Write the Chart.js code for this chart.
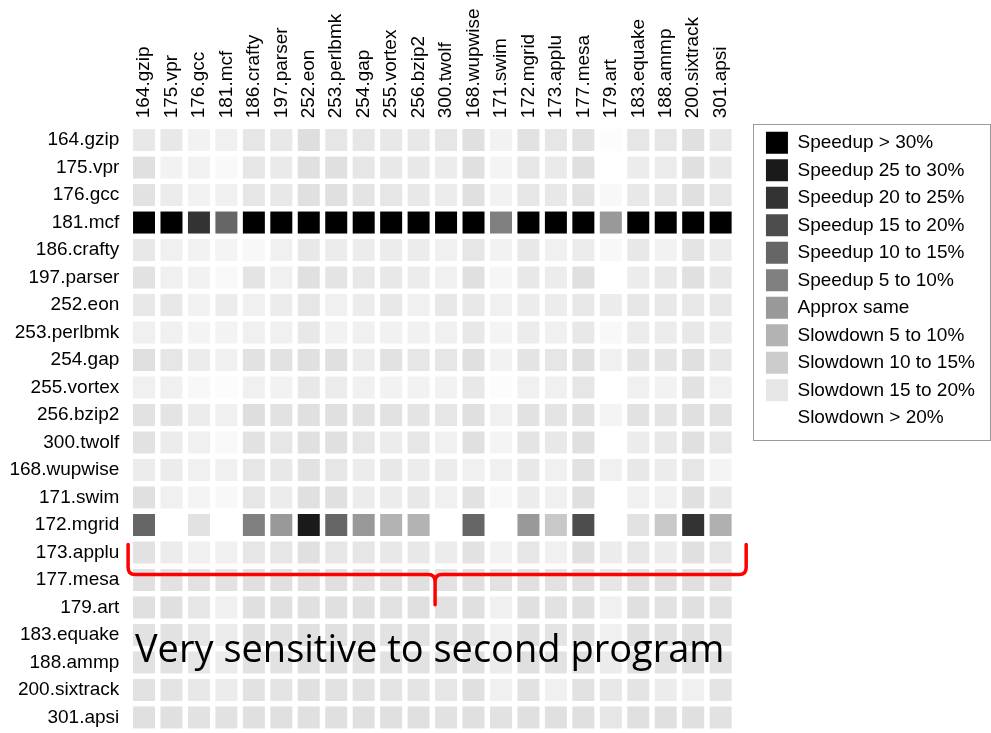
<!DOCTYPE html>
<html>
<head>
<meta charset="utf-8">
<script src="https://cdn.jsdelivr.net/npm/chart.js@4.4.1/dist/chart.umd.min.js"></script>
<style>
  html, body { margin: 0; background: #fff; }
  #wrap { width: 991px; height: 733px; position: relative; }
</style>
</head>
<body>
<div id="wrap"><canvas id="heat"></canvas></div>
<script>
"use strict";

// SPEC CPU2000 programs, same order on both axes.
const programs = [
  "164.gzip", "175.vpr", "176.gcc", "181.mcf", "186.crafty", "197.parser",
  "252.eon", "253.perlbmk", "254.gap", "255.vortex", "256.bzip2", "300.twolf",
  "168.wupwise", "171.swim", "172.mgrid", "173.applu", "177.mesa", "179.art",
  "183.equake", "188.ammp", "200.sixtrack", "301.apsi",
];

// Speedup in % (negative = slowdown), row program vs column program.
const speedup = [
  [-15.5, -15.5, -17.5, -17.1, -15.1, -15.5, -13.5, -15.1, -15.1, -15.5, -15.5, -15.1, -14, -17.5, -14.3, -15.1, -14.3, -19.4, -15.1, -15.1, -14, -15.5],
  [-14, -17.5, -17.5, -18.8, -15.1, -15.9, -14, -14, -15.1, -15.5, -15.5, -16.3, -14, -17.8, -15.1, -15.9, -14, -21, -16.3, -16.1, -14, -15.5],
  [-14.3, -16.3, -17.5, -17.1, -15.1, -15.5, -14, -14, -14.7, -15.1, -15.5, -16.3, -14, -17.5, -15.1, -15.5, -14.3, -18.6, -15.5, -15.1, -14, -15.1],
  [32, 32, 20, 10, 32, 32, 32, 32, 32, 32, 32, 32, 32, 5, 32, 32, 32, 0, 32, 32, 32, 32],
  [-15.5, -17.1, -17.5, -17.8, -18.6, -17.1, -15.5, -16.3, -16.3, -16.3, -16.3, -17.1, -15.1, -17.5, -15.5, -17.1, -16.3, -18.6, -15.5, -17.5, -14.7, -16.3],
  [-14.3, -17.1, -17.5, -18.8, -14.7, -17.1, -14, -14.7, -15.5, -15.5, -16.3, -17.1, -14, -18.2, -15.5, -16.3, -14, -21, -16.3, -15.5, -14, -15.5],
  [-15.5, -15.5, -17.5, -16.3, -17.1, -16.3, -15.1, -17.1, -16.3, -15.5, -17.1, -15.5, -15.5, -17.1, -16.3, -16.3, -15.5, -16.3, -15.1, -15.5, -15.5, -15.5],
  [-17.1, -17.1, -17.8, -17.6, -17.1, -17.1, -15.5, -17.5, -17.1, -17.3, -17.3, -17.1, -15.5, -17.8, -16.3, -17.1, -15.5, -18.6, -16.3, -16.3, -15.5, -16.3],
  [-14, -15.1, -16.3, -17.1, -14.3, -14.3, -14, -14, -16.3, -14.3, -15.1, -15.1, -14, -17.5, -14.7, -15.1, -14, -17.1, -14.7, -14.7, -14, -15.5],
  [-17.1, -17.1, -18.6, -19.4, -17.1, -17.5, -15.5, -16.3, -17.1, -17.5, -17.5, -17.5, -15.5, -19.4, -17.1, -17.1, -15.1, -21, -17.1, -17.5, -14.3, -17.1],
  [-14.3, -14.7, -16.3, -17.1, -13.5, -14.3, -14, -14, -14.3, -14.3, -14.7, -15.1, -14, -17.1, -14.3, -14.7, -14, -17.8, -14.3, -14.7, -14, -14.3],
  [-14.3, -16.3, -17.1, -18.8, -14.3, -15.1, -14, -14, -15.1, -16.3, -15.1, -17.1, -14, -17.8, -14.7, -15.5, -14, -21, -16.3, -15.5, -14, -15.1],
  [-16.3, -16.3, -17.1, -17.1, -15.1, -15.5, -14.3, -15.1, -16.3, -15.5, -16.3, -16.3, -17.1, -17.1, -15.5, -17.1, -14.3, -17.1, -15.5, -16.3, -15.1, -17.8],
  [-14, -17.1, -17.8, -18.6, -15.1, -16.3, -14, -14, -16.3, -16.3, -15.5, -17.1, -14.3, -18.6, -16.3, -17.1, -14, -21, -17.1, -17.1, -14, -15.5],
  [10, -21, -14.3, -21, 5, 0, 25, 10, 0, -5, -5, -21, 10, -21, 0, -9.2, 15, -21, -14.3, -9.2, 20, -4.6],
  [-14.3, -16.3, -17.1, -17.1, -15.1, -15.1, -14, -15.1, -15.1, -15.5, -15.5, -16.3, -14.3, -17.5, -15.1, -17.1, -14, -16.3, -15.1, -16.3, -14, -15.1],
  [-14, -14.3, -14.3, -14.3, -14, -14, -14, -14, -14.3, -14.3, -14, -14.3, -14, -14.3, -14, -14.3, -14, -15.1, -14, -14, -14, -14.3],
  [-14, -14, -15.1, -17.1, -14, -14, -14, -14, -14, -14.3, -14, -14.3, -14, -17.1, -14, -14.3, -14, -17.1, -14, -14.3, -14, -14.3],
  [-14.3, -14.3, -15.1, -16.3, -14, -14.3, -14, -14, -14, -14.3, -14.3, -14.3, -14, -17.1, -14, -14.7, -14, -17.1, -14, -14.3, -14, -14.3],
  [-14.3, -14.3, -15.1, -16.3, -14.3, -14.3, -14, -14, -14.3, -14.3, -14.3, -14.3, -14, -16.3, -14, -14.3, -14, -16.3, -14, -14.3, -14, -14.3],
  [-14.3, -14.7, -15.5, -16.3, -14.3, -14.7, -14, -14.3, -14.3, -14.7, -14.7, -15.1, -14, -17.1, -14.3, -17.1, -14.3, -15.5, -14.7, -16.3, -17.1, -14.7],
  [-14, -14, -14.3, -14.3, -14, -14, -14, -14, -14, -14, -14, -14.3, -14, -14.3, -14, -14, -14, -15.1, -14, -14, -14, -14.3],
];

const legendLabels = [
  "Speedup > 30%", "Speedup 25 to 30%", "Speedup 20 to 25%", "Speedup 15 to 20%",
  "Speedup 10 to 15%", "Speedup 5 to 10%", "Approx same", "Slowdown 5 to 10%",
  "Slowdown 10 to 15%", "Slowdown 15 to 20%", "Slowdown > 20%",
];
const legendSpeedup = [30, 25, 20, 15, 10, 5, 0, -5, -10, -15, -20];

const note = "Very sensitive to second program";

// 0% -> #999, each 5% one step darker/lighter, clamped to black/white.
function shade(v) {
  const g = Math.round(Math.max(0, Math.min(255, 153 - 5.1 * v)));
  return "rgb(" + g + "," + g + "," + g + ")";
}

const cells = [];
speedup.forEach((row, j) => row.forEach((v, i) => cells.push({ x: i, y: j, v })));

const family = '"Liberation Sans", Arial, sans-serif';
const tickFont = { family, size: 19 };
const rowFont = { family, size: 19, lineHeight: 0.1 };
const programTicks = (s) => { s.ticks = programs.map((_, i) => ({ value: i })); };

// Red brace over the lower rows, the caption, and the frame round the legend.
const annotations = {
  id: "annotations",
  afterDatasetsDraw(chart) {
    const { ctx } = chart;
    const px = (v) => chart.scales.x.getPixelForValue(v);
    const py = (v) => chart.scales.y.getPixelForValue(v);
    const xl = px(-0.58), xm = px(10.6), xr = px(21.93);
    const yt = py(14.71), yh = py(15.8), yb = py(16.9);
    const r = 7;
    ctx.save();
    ctx.strokeStyle = "#ff0000";
    ctx.lineWidth = 3.5;
    ctx.lineCap = "round";
    ctx.lineJoin = "round";
    ctx.beginPath();
    ctx.moveTo(xl, yt);
    ctx.lineTo(xl, yh - r);
    ctx.quadraticCurveTo(xl, yh, xl + r, yh);
    ctx.lineTo(xm - r, yh);
    ctx.quadraticCurveTo(xm, yh, xm, yh + r);
    ctx.lineTo(xm, yb);
    ctx.moveTo(xr, yt);
    ctx.lineTo(xr, yh - r);
    ctx.quadraticCurveTo(xr, yh, xr - r, yh);
    ctx.lineTo(xm + r, yh);
    ctx.quadraticCurveTo(xm, yh, xm, yh + r);
    ctx.stroke();

    ctx.fillStyle = "#000";
    ctx.font = '38px "Open Sans", sans-serif';
    ctx.textBaseline = "alphabetic";
    ctx.textAlign = "left";
    ctx.fillText(note, px(-0.33), py(19));
    ctx.restore();
  },
  afterDraw(chart) {
    const lg = chart.legend;
    const hb = lg.legendHitBoxes;
    if (!hb || !hb.length) return;
    const first = hb[0], last = hb[hb.length - 1];
    const left = Math.round(lg.left - 7) + 0.5;
    const top = Math.round(first.top - 8) + 0.5;
    const bottom = Math.round(last.top + last.height + 11) + 0.5;
    const right = Math.round(lg.right + 5) + 0.5;
    const { ctx } = chart;
    ctx.save();
    ctx.strokeStyle = "#9a9a9a";
    ctx.lineWidth = 1;
    ctx.strokeRect(left, top, right - left, bottom - top);
    ctx.restore();
  },
};

new Chart(document.getElementById("heat"), {
  type: "scatter",
  data: {
    datasets: [{
      data: cells,
      backgroundColor: (c) => (c.raw ? shade(c.raw.v) : "#fff"),
      pointStyle: "rect",
      pointRadius: 11 * Math.SQRT2,
      borderWidth: 0,
      clip: false,
    }],
  },
  options: {
    responsive: true,
    maintainAspectRatio: false,
    animation: false,
    events: [],
    layout: { padding: { top: 0.46, right: 6.1, bottom: 2.7, left: 0 } },
    scales: {
      x: {
        // extra room past the last column keeps the legend clear of the grid
        type: "linear", position: "top", min: -0.5, max: 22.45,
        afterBuildTicks: programTicks,
        grid: { display: false, drawTicks: false },
        border: { display: false },
        ticks: {
          autoSkip: false, maxRotation: 90, minRotation: 90, padding: 8, labelOffset: 22.8,
          font: tickFont, color: "#000",
          callback: (v) => programs[v],
        },
      },
      y: {
        // layout keeps a bottom margin, so the last row sits on the plot edge
        type: "linear", reverse: true, min: -0.5, max: 21,
        afterBuildTicks: programTicks,
        afterFit: (s) => { s.width = 130.3; },
        grid: { display: false, drawTicks: true, tickLength: 11 },
        border: { display: false },
        ticks: {
          autoSkip: false, padding: 0,
          font: rowFont, color: "#000",
          callback: (v) => programs[v],
        },
      },
    },
    plugins: {
      tooltip: { enabled: false },
      legend: {
        position: "right",
        align: "start",
        fullSize: false,
        labels: {
          boxWidth: 22, boxHeight: 22, padding: 5.5,
          font: tickFont, color: "#000",
          generateLabels: () => legendLabels.map((text, i) => {
            const c = shade(legendSpeedup[i]);
            return { text, fillStyle: c, strokeStyle: c, lineWidth: 0, hidden: false, fontColor: "#000" };
          }),
        },
      },
    },
  },
  plugins: [annotations],
});
</script>
</body>
</html>
